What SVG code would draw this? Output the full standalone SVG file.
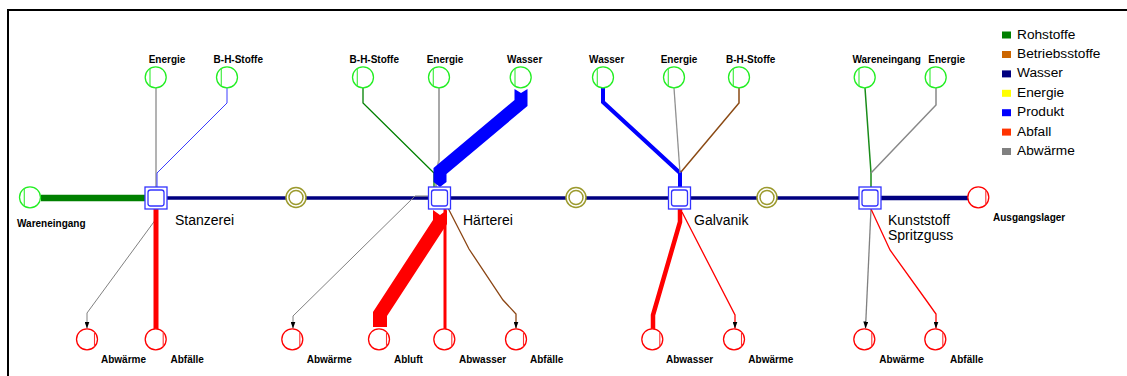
<svg xmlns="http://www.w3.org/2000/svg" width="1127" height="376" viewBox="0 0 1127 376">
  <style>
    .lbl{font-family:"Liberation Sans",Arial,sans-serif;font-size:10px;font-weight:bold;fill:#000}
    .lblm{font-family:"Liberation Sans",Arial,sans-serif;font-size:10px;font-weight:bold;fill:#000;text-anchor:middle}
    .proc-lbl{font-family:"Liberation Sans",Arial,sans-serif;font-size:14px;fill:#000}
    .leg{font-family:"Liberation Sans",Arial,sans-serif;font-size:13.7px;fill:#000}
    .c{fill:none;stroke-linejoin:miter}
    .arrow{marker-end:url(#arr)}
  </style>
  <defs>
    <!-- source (inflow) symbol -->
    <g id="in">
      <circle r="10.5" fill="#fff" stroke="#22ee22" stroke-width="1.3"/>
      <line x1="-5.7" y1="-8.7" x2="-5.7" y2="8.7" stroke="#44ee44" stroke-width="1.2"/>
    </g>
    <!-- sink (outflow) symbol -->
    <g id="out">
      <circle r="10.5" fill="#fff" stroke="#ff0000" stroke-width="1.3"/>
      <line x1="7.5" y1="-7.3" x2="7.5" y2="7.3" stroke="#ff3030" stroke-width="1.1"/>
    </g>
    <!-- buffer / store between processes -->
    <g id="buf">
      <circle r="10" fill="#fff" stroke="#9c9a2e" stroke-width="1.5"/>
      <circle r="7" fill="#fff" stroke="#9c9a2e" stroke-width="1.5"/>
    </g>
    <!-- process box -->
    <g id="box">
      <rect x="-11" y="-11" width="22" height="22" fill="#fff" stroke="#3333ff" stroke-width="1.3"/>
      <rect x="-8" y="-8" width="16" height="16" rx="2.5" fill="#fff" stroke="#3333ff" stroke-width="1.3"/>
    </g>
    <marker id="arr" viewBox="0 0 7 5" refX="7" refY="2.5" markerWidth="7" markerHeight="5" markerUnits="userSpaceOnUse" orient="auto">
      <path d="M0,0 L7,2.5 L0,5 z" fill="#000"/>
    </marker>
  </defs>

  <rect width="1127" height="376" fill="#fff"/>
  <!-- frame -->
  <path d="M8,376 V10 H1127" fill="none" stroke="#000" stroke-width="2"/>

  <!-- legend -->
  <g id="legend">
    <rect x="1002" y="31.5" width="9" height="7" fill="#008000"/>
    <text class="leg" x="1017" y="38.5">Rohstoffe</text>
    <rect x="1002" y="51" width="9" height="7" fill="#cc6600"/>
    <text class="leg" x="1017" y="58">Betriebsstoffe</text>
    <rect x="1002" y="70.4" width="9" height="7" fill="#000080"/>
    <text class="leg" x="1017" y="77.4">Wasser</text>
    <rect x="1002" y="89.8" width="9" height="7" fill="#ffff00"/>
    <text class="leg" x="1017" y="96.8">Energie</text>
    <rect x="1002" y="109.2" width="9" height="7" fill="#0000ff"/>
    <text class="leg" x="1017" y="116.2">Produkt</text>
    <rect x="1002" y="128.6" width="9" height="7" fill="#ff3300"/>
    <text class="leg" x="1017" y="135.6">Abfall</text>
    <rect x="1002" y="148" width="9" height="7" fill="#808080"/>
    <text class="leg" x="1017" y="155">Abwärme</text>
  </g>

  <!-- flows -->
  <g id="connectors">
    <!-- main product line -->
    <path class="c" d="M41,198 H145" stroke="#008000" stroke-width="6.5"/>
    <path class="c" d="M156,198 H296 M296,198 H439.5 M439.5,198 H576 M576,198 H767 M767,198 H870" stroke="#000080" stroke-width="3.5"/>
    <path class="c" d="M870,198 H978" stroke="#000080" stroke-width="4.5"/>

    <!-- Stanzerei inputs -->
    <path class="c" d="M156,88 V187" stroke="#808080" stroke-width="1.2"/>
    <path class="c" d="M227,88 V103 L157,173 V187" stroke="#3c3cff" stroke-width="1"/>
    <!-- Stanzerei outputs -->
    <path class="c arrow" d="M156,209 V219 L87,313 V328.5" stroke="#808080" stroke-width="1"/>
    <path class="c" d="M156,209 V329" stroke="#ff0000" stroke-width="5"/>

    <!-- Härterei inputs -->
    <path class="c" d="M363,88 V103 L434,173 V187" stroke="#008000" stroke-width="1.3"/>
    <path class="c" d="M439,88 V160 L436,173 V187" stroke="#a8a8a8" stroke-width="2"/>
    <polygon points="514.5,89 521,93 527.5,89 527.5,106 446.5,174 446.5,182 440,187 433.5,182 433.5,168 514.5,100" fill="#0000ff"/>
    <!-- Härterei outputs -->
    <path class="c arrow" d="M428,196 H415 L293,316 V328.5" stroke="#808080" stroke-width="1"/>
    <polygon points="433,210 440,215 447,210 447,224 387,316 387,327 373,327 373,312 433,220" fill="#ff0000"/>
    <path class="c" d="M445,209 V329" stroke="#ff0000" stroke-width="3"/>
    <path class="c arrow" d="M448,208 L469,249 L503,300 L516,314 V328.5" stroke="#8b4513" stroke-width="1.3"/>

    <!-- Galvanik inputs -->
    <path class="c" d="M603,88 V102 L680,173 V187" stroke="#0000ff" stroke-width="4"/>
    <path class="c" d="M674,88 L680,173" stroke="#909090" stroke-width="1.3"/>
    <path class="c" d="M739,88 V103 L681,172" stroke="#8b4a14" stroke-width="1.5"/>
    <!-- Galvanik outputs -->
    <path class="c" d="M680,209 V222 L653,315 V329" stroke="#ff0000" stroke-width="4.5"/>
    <path class="c arrow" d="M682,212 L735,315 V328.5" stroke="#ff0000" stroke-width="1.3"/>

    <!-- Kunststoff Spritzguss inputs -->
    <path class="c" d="M865,88 L871,173 V187" stroke="#1a8c1a" stroke-width="1.5"/>
    <path class="c" d="M936,88 V105 L871,173" stroke="#888" stroke-width="1.5"/>
    <!-- Kunststoff Spritzguss outputs -->
    <path class="c arrow" d="M871,209 L865.5,328.5" stroke="#808080" stroke-width="1.3"/>
    <path class="c arrow" d="M871,209 L890,250 L926,300 L936,314 V328.5" stroke="#ff0000" stroke-width="1.3"/>
  </g>

  <!-- boundary inflow / outflow -->
  <g id="wareneingang">
    <use href="#in" x="30" y="197.3"/>
    <text class="lbl" x="17" y="226.5">Wareneingang</text>
  </g>
  <g id="ausgangslager">
    <use href="#out" x="978.3" y="197.3"/>
    <text class="lbl" x="993" y="221">Ausgangslager</text>
  </g>

  <!-- buffers -->
  <g id="puffer1"><use href="#buf" x="296" y="197.5"/></g>
  <g id="puffer2"><use href="#buf" x="576" y="197.5"/></g>
  <g id="puffer3"><use href="#buf" x="767" y="197.5"/></g>

  <!-- Stanzerei -->
  <g id="stanzerei">
    <use href="#box" x="156" y="198"/>
    <text class="proc-lbl" x="175" y="225">Stanzerei</text>
  </g>
  <g id="stanzerei-energie"><use href="#in" x="155.7" y="77.3"/><text class="lblm" x="167" y="63.3">Energie</text></g>
  <g id="stanzerei-bh"><use href="#in" x="227" y="77.3"/><text class="lblm" x="238.3" y="63.3">B-H-Stoffe</text></g>
  <g id="stanzerei-abwaerme"><use href="#out" x="87" y="339.3"/><text class="lbl" x="101" y="363.3">Abwärme</text></g>
  <g id="stanzerei-abfaelle"><use href="#out" x="155.7" y="339.3"/><text class="lbl" x="170.5" y="363.3">Abfälle</text></g>

  <!-- Härterei -->
  <g id="haerterei">
    <use href="#box" x="439.5" y="198"/>
    <text class="proc-lbl" x="463" y="225">Härterei</text>
  </g>
  <g id="haerterei-bh"><use href="#in" x="363" y="77.3"/><text class="lblm" x="374.3" y="63.3">B-H-Stoffe</text></g>
  <g id="haerterei-energie"><use href="#in" x="439" y="77.3"/><text class="lblm" x="445" y="63.3">Energie</text></g>
  <g id="haerterei-wasser"><use href="#in" x="520.7" y="77.3"/><text class="lblm" x="524.7" y="63.3">Wasser</text></g>
  <g id="haerterei-abwaerme"><use href="#out" x="292.3" y="339.3"/><text class="lbl" x="306.7" y="363.3">Abwärme</text></g>
  <g id="haerterei-abluft"><use href="#out" x="379" y="339.3"/><text class="lbl" x="394" y="363.3">Abluft</text></g>
  <g id="haerterei-abwasser"><use href="#out" x="444.3" y="339.3"/><text class="lbl" x="459" y="363.3">Abwasser</text></g>
  <g id="haerterei-abfaelle"><use href="#out" x="516" y="339.3"/><text class="lbl" x="530" y="363.3">Abfälle</text></g>

  <!-- Galvanik -->
  <g id="galvanik">
    <use href="#box" x="679.5" y="198"/>
    <text class="proc-lbl" x="694" y="225">Galvanik</text>
  </g>
  <g id="galvanik-wasser"><use href="#in" x="603" y="77.3"/><text class="lblm" x="606.7" y="63.3">Wasser</text></g>
  <g id="galvanik-energie"><use href="#in" x="674" y="77.3"/><text class="lblm" x="679" y="63.3">Energie</text></g>
  <g id="galvanik-bh"><use href="#in" x="739" y="77.3"/><text class="lblm" x="750.7" y="63.3">B-H-Stoffe</text></g>
  <g id="galvanik-abwasser"><use href="#out" x="652.3" y="339.3"/><text class="lbl" x="666" y="363.3">Abwasser</text></g>
  <g id="galvanik-abwaerme"><use href="#out" x="734" y="339.3"/><text class="lbl" x="748.3" y="363.3">Abwärme</text></g>

  <!-- Kunststoff Spritzguss -->
  <g id="kunststoff">
    <use href="#box" x="870" y="198"/>
    <text class="proc-lbl" x="888" y="225">Kunststoff</text>
    <text class="proc-lbl" x="888" y="240">Spritzguss</text>
  </g>
  <g id="kunststoff-wareneingang"><use href="#in" x="864.7" y="77.3"/><text class="lblm" x="886.7" y="63.3">Wareneingang</text></g>
  <g id="kunststoff-energie"><use href="#in" x="935.7" y="77.3"/><text class="lblm" x="946.7" y="63.3">Energie</text></g>
  <g id="kunststoff-abwaerme"><use href="#out" x="864.3" y="339.3"/><text class="lbl" x="879.3" y="363.3">Abwärme</text></g>
  <g id="kunststoff-abfaelle"><use href="#out" x="935.3" y="339.3"/><text class="lbl" x="950" y="363.3">Abfälle</text></g>
</svg>
